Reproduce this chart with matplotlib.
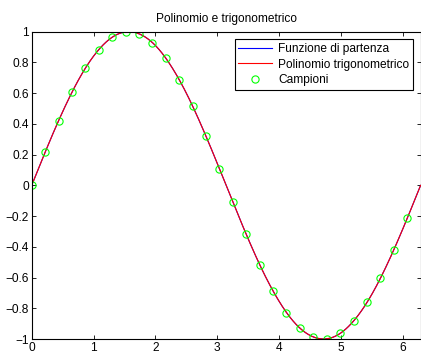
import numpy as np
import matplotlib
matplotlib.use("Agg")
import matplotlib.pyplot as plt

plt.rcParams['font.family'] = ['Liberation Sans', 'DejaVu Sans']

title = "Polinomio e trigonometrico"
labels = ["Funzione di partenza", "Polinomio trigonometrico", "Campioni"]

# sample abscissae and values (29 equally spaced samples on [0, 2*pi))
x_samples = [0.0, 0.2167, 0.4333, 0.6500, 0.8666, 1.0833, 1.3000, 1.5166, 1.7333,
             1.9500, 2.1666, 2.3833, 2.5999, 2.8166, 3.0333, 3.2499, 3.4666, 3.6833,
             3.8999, 4.1166, 4.3332, 4.5499, 4.7666, 4.9832, 5.1999, 5.4166, 5.6332,
             5.8499, 6.0665]
y_samples = [0.0, 0.2150, 0.4199, 0.6052, 0.7622, 0.8835, 0.9636, 0.9985, 0.9868,
             0.9290, 0.8277, 0.6877, 0.5156, 0.3193, 0.1081, -0.1081, -0.3193, -0.5156,
             -0.6877, -0.8277, -0.9290, -0.9868, -0.9985, -0.9636, -0.8835, -0.7622,
             -0.6052, -0.4199, -0.2150]

xs = np.array(x_samples)
ys = np.array(y_samples)
N = len(ys)
period = 2 * np.pi

# trigonometric interpolant of the samples (Dirichlet kernel, N odd)
xf = np.linspace(0, period, 600)
def trig_interp(x):
    t = x[:, None] - xs[None, :]
    s = np.sin(t / 2)
    num = np.sin(N * t / 2)
    with np.errstate(divide='ignore', invalid='ignore'):
        k = np.where(np.abs(s) < 1e-12, 1.0, num / (N * s))
    return k @ ys
yf = trig_interp(xf)

fs = 8.6
fig = plt.figure(figsize=(4.21, 3.56), dpi=100)
ax = fig.add_axes([31.7/421, 1 - 339/356, (420.6 - 31.7)/421, (339 - 31.7)/356])

ax.plot(xf, yf, color=(0, 0, 1), lw=0.8, label=labels[0])
ax.plot(xf, yf, color=(1, 0, 0), lw=0.8, label=labels[1])
ax.plot(xs, ys, 'o', mfc='none', mec=(0, 1, 0), ms=5.2, mew=0.8, label=labels[2])

ax.set_xlim(0, period)
ax.set_ylim(-1, 1)
ax.set_xticks([0, 1, 2, 3, 4, 5, 6])
ax.set_yticks(np.round(np.arange(-1, 1.01, 0.2), 1))
ax.set_yticklabels(['\u22121', '\u22120.8', '\u22120.6', '\u22120.4', '\u22120.2', '0',
                    '0.2', '0.4', '0.6', '0.8', '1'])
ax.tick_params(direction='in', length=3, width=0.6, labelsize=fs, top=True, right=True, pad=2)
for sp in ax.spines.values():
    sp.set_linewidth(0.8)
ax.set_title(title, fontsize=fs, pad=7)

leg = ax.legend(loc='upper right', fontsize=fs, frameon=True, fancybox=False,
                edgecolor='black', framealpha=1, borderpad=0.3, labelspacing=0.3,
                handlelength=2.85, handletextpad=0.5, borderaxespad=0.65)
leg.get_frame().set_linewidth(0.8)

fig.savefig("out.png", dpi=100)
